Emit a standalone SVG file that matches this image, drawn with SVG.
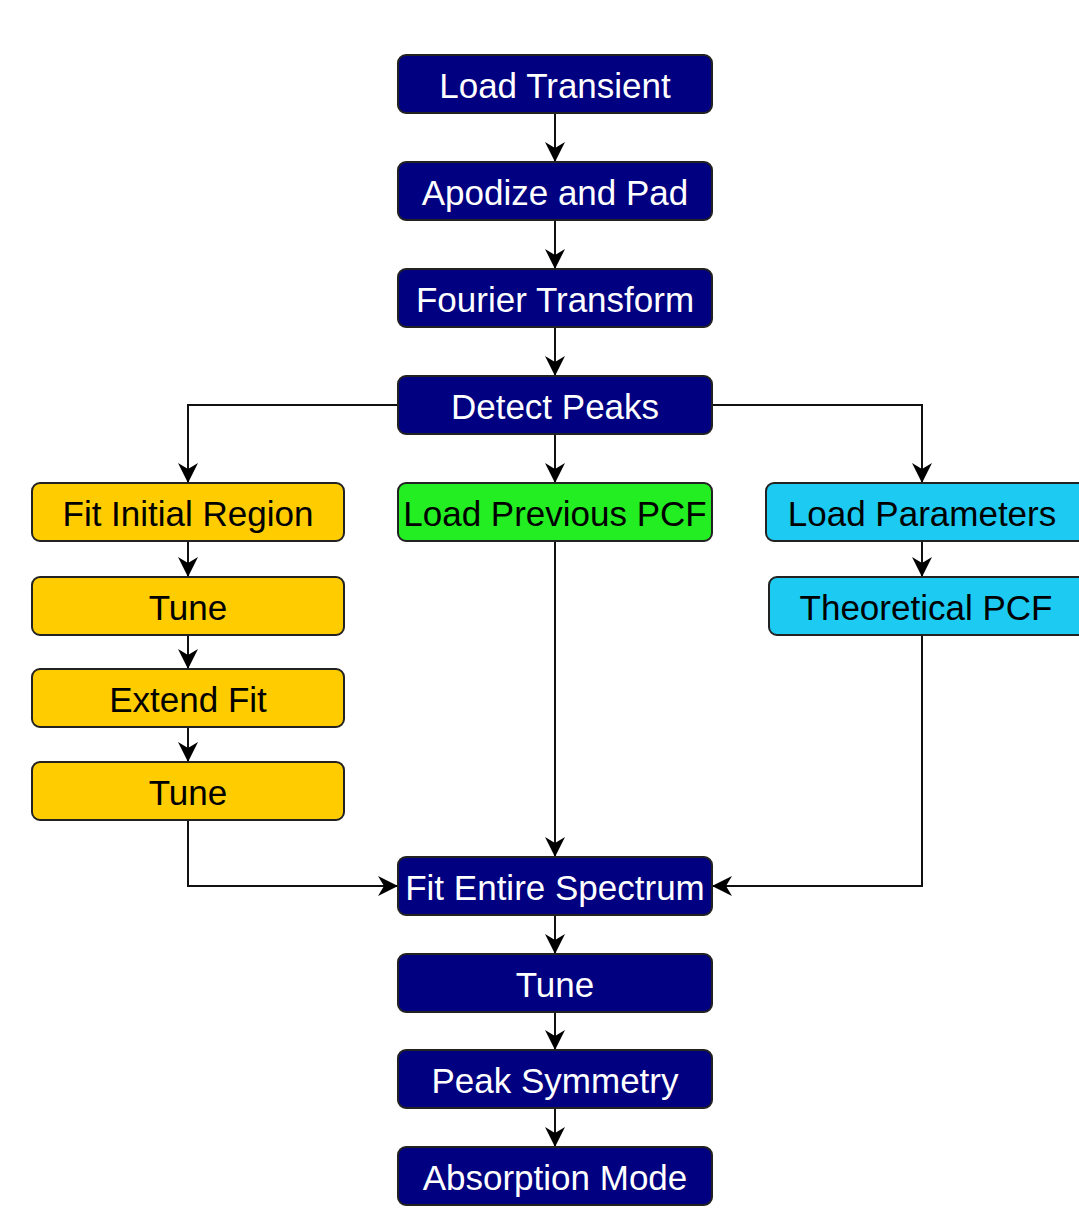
<svg xmlns="http://www.w3.org/2000/svg" width="1079" height="1209" viewBox="0 0 1079 1209">
<style>
.b rect{stroke:#222;stroke-width:2}
.n rect{fill:#000080}
.n text{fill:#fff}
.y rect{fill:#FFCC00}
.g rect{fill:#22EE22}
.c rect{fill:#1CCAF2}
text{font-family:"Liberation Sans",Arial,sans-serif;font-size:35px;text-anchor:middle;dominant-baseline:central;fill:#000}
.e{fill:none;stroke:#111;stroke-width:2;marker-end:url(#ah)}
</style>
<defs>
<marker id="ah" markerWidth="22" markerHeight="22" refX="20" refY="11" orient="auto" markerUnits="userSpaceOnUse">
<path d="M0,1 L20,11 L0,21 L6,11 Z" fill="#000"/>
</marker>
</defs>
<rect width="1079" height="1209" fill="#fff"/>
<g id="connectors">
<path class="e" d="M555,113 V162"/>
<path class="e" d="M555,220 V269"/>
<path class="e" d="M555,327 V376"/>
<path class="e" d="M555,434 V483"/>
<path class="e" d="M398,405 H188 V483"/>
<path class="e" d="M712,405 H922 V483"/>
<path class="e" d="M188,541 V577"/>
<path class="e" d="M188,635 V669"/>
<path class="e" d="M188,727 V762"/>
<path class="e" d="M922,541 V577"/>
<path class="e" d="M555,541 V857"/>
<path class="e" d="M188,820 V886 H398"/>
<path class="e" d="M922,635 V886 H712"/>
<path class="e" d="M555,915 V954"/>
<path class="e" d="M555,1012 V1050"/>
<path class="e" d="M555,1108 V1147"/>
</g>
<g id="load-transient" class="b n"><rect x="398" y="55" width="314" height="58" rx="8"/><text x="555" y="85">Load Transient</text></g>
<g id="apodize" class="b n"><rect x="398" y="162" width="314" height="58" rx="8"/><text x="555" y="192">Apodize and Pad</text></g>
<g id="fourier" class="b n"><rect x="398" y="269" width="314" height="58" rx="8"/><text x="555" y="299">Fourier Transform</text></g>
<g id="detect-peaks" class="b n"><rect x="398" y="376" width="314" height="58" rx="8"/><text x="555" y="406">Detect Peaks</text></g>
<g id="fit-initial" class="b y"><rect x="32" y="483" width="312" height="58" rx="8"/><text x="188" y="513">Fit Initial Region</text></g>
<g id="tune1" class="b y"><rect x="32" y="577" width="312" height="58" rx="8"/><text x="188" y="607">Tune</text></g>
<g id="extend-fit" class="b y"><rect x="32" y="669" width="312" height="58" rx="8"/><text x="188" y="699">Extend Fit</text></g>
<g id="tune2" class="b y"><rect x="32" y="762" width="312" height="58" rx="8"/><text x="188" y="792">Tune</text></g>
<g id="load-prev-pcf" class="b g"><rect x="398" y="483" width="314" height="58" rx="8"/><text x="555" y="513">Load Previous PCF</text></g>
<g id="load-params" class="b c"><rect x="766" y="483" width="320" height="58" rx="8"/><text x="922" y="513">Load Parameters</text></g>
<g id="theoretical-pcf" class="b c"><rect x="769" y="577" width="320" height="58" rx="8"/><text x="926" y="607">Theoretical PCF</text></g>
<g id="fit-entire" class="b n"><rect x="398" y="857" width="314" height="58" rx="8"/><text x="555" y="887">Fit Entire Spectrum</text></g>
<g id="tune3" class="b n"><rect x="398" y="954" width="314" height="58" rx="8"/><text x="555" y="984">Tune</text></g>
<g id="peak-symmetry" class="b n"><rect x="398" y="1050" width="314" height="58" rx="8"/><text x="555" y="1080">Peak Symmetry</text></g>
<g id="absorption" class="b n"><rect x="398" y="1147" width="314" height="58" rx="8"/><text x="555" y="1177">Absorption Mode</text></g>
</svg>
